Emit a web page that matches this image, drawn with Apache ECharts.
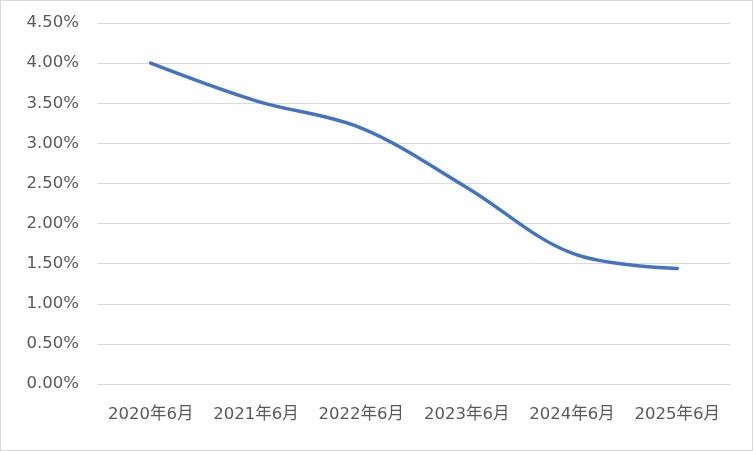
<!DOCTYPE html>
<html>
<head>
<meta charset="utf-8">
<script src="https://cdn.jsdelivr.net/npm/echarts@6/dist/echarts.min.js"></script>
<style>
  html, body { margin: 0; padding: 0; background: #fff; }
  #chart { width: 753px; height: 451px; box-sizing: border-box; border: 1px solid #d9d9d9; }
</style>
</head>
<body>
<div id="chart"></div>
<script>
// 类别和数值
const categories = ["2020年6月", "2021年6月", "2022年6月", "2023年6月", "2024年6月", "2025年6月"];
const rates = [4.00, 3.53, 3.19, 2.45, 1.63, 1.44];
const yTicks = { min: 0, max: 4.5, interval: 0.5 };

const labelFont = "'DejaVu Sans', 'Noto Sans CJK SC', sans-serif";

const chart = echarts.init(document.getElementById("chart"));
chart.setOption({
  animation: false,
  grid: { left: 97, right: 22, top: 22, bottom: 66 },
  xAxis: {
    type: "category",
    boundaryGap: true,
    data: categories,
    axisLine: { show: true, lineStyle: { color: "#d9d9d9" } },
    axisTick: { show: false },
    axisLabel: {
      color: "#595959",
      fontSize: 16.5,
      fontFamily: labelFont,
      margin: 22,
      interval: 0
    }
  },
  yAxis: {
    type: "value",
    min: yTicks.min,
    max: yTicks.max,
    interval: yTicks.interval,
    axisLine: { show: false },
    axisTick: { show: false },
    splitLine: { lineStyle: { color: "#d9d9d9" } },
    axisLabel: {
      color: "#595959",
      fontSize: 16.5,
      fontFamily: labelFont,
      margin: 19,
      formatter: v => v.toFixed(2) + "%"
    }
  },
  series: [
    {
      type: "line",
      data: rates,
      smooth: 0.35,
      symbol: "none",
      lineStyle: { color: "#4472c4", width: 3.5, cap: "round" }
    }
  ]
});
</script>
</body>
</html>
